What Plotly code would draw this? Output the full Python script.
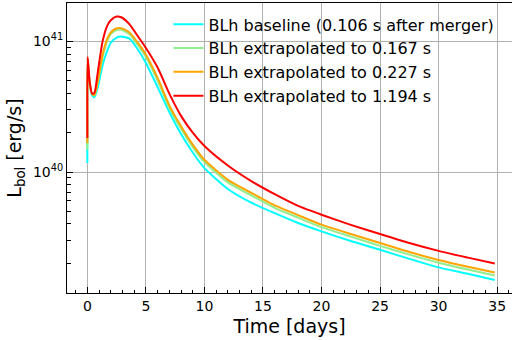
import plotly.graph_objects as go

# time in days
time_days = [0, 0.02, 0.2, 0.4, 0.6, 0.9, 1.3, 1.7, 2.0, 2.5, 2.9, 3.6, 4.3, 5, 6, 7, 8, 9, 10,
             12, 14, 16, 18, 20, 22.5, 25, 27.5, 30, 32.5, 34.8]

# bolometric luminosity in units of 1e40 erg/s
L_baseline = [1.17, 7.24, 4.68, 3.89, 3.73, 4.47, 6.61, 8.51, 9.77, 10.7, 10.9, 10.5, 8.71, 6.84,
              4.47, 2.88, 1.95, 1.41, 1.07, 0.741, 0.582, 0.484, 0.407, 0.351, 0.296, 0.254,
              0.216, 0.186, 0.166, 0.149]
L_0167 = [1.48, 7.41, 4.73, 3.94, 3.85, 4.90, 7.59, 10.1, 11.35, 12.2, 12.3, 11.35, 9.44, 7.59,
          5.01, 3.09, 2.14, 1.55, 1.19, 0.832, 0.661, 0.531, 0.447, 0.378, 0.320, 0.272,
          0.233, 0.202, 0.179, 0.161]
L_0227 = [1.66, 7.41, 4.79, 3.98, 3.89, 5.01, 7.94, 10.5, 11.7, 12.6, 12.6, 11.7, 9.77, 7.91,
          5.25, 3.24, 2.24, 1.62, 1.24, 0.871, 0.692, 0.556, 0.468, 0.395, 0.335, 0.286,
          0.244, 0.212, 0.188, 0.170]
L_1194 = [1.82, 7.59, 4.90, 3.98, 4.03, 5.89, 10.0, 13.2, 14.5, 15.5, 15.3, 13.5, 11.0, 8.91,
          6.31, 3.98, 2.69, 2.00, 1.58, 1.12, 0.851, 0.676, 0.550, 0.471, 0.394, 0.335,
          0.286, 0.249, 0.221, 0.199]

series_names = ["BLh baseline (0.106 s after merger)",
                "BLh extrapolated to 0.167 s",
                "BLh extrapolated to 0.227 s",
                "BLh extrapolated to 1.194 s"]
series_values = [L_baseline, L_0167, L_0227, L_1194]
series_colors = ["#00ffff", "#90ee90", "#ffa500", "#ff0000"]

x_ticks = [0, 5, 10, 15, 20, 25, 30, 35]
x_minor = list(range(-1, 37))
y_major = [1e40, 1e41]
y_major_text = ["10<sup>40</sup>", "10<sup>41</sup>"]
y_minor = [2e39, 3e39, 4e39, 5e39, 6e39, 7e39, 8e39, 9e39,
           2e40, 3e40, 4e40, 5e40, 6e40, 7e40, 8e40, 9e40]

fig = go.Figure()
for i, (name, vals, col) in enumerate(zip(series_names, series_values, series_colors)):
    fig.add_trace(go.Scatter(
        x=time_days, y=[v * 1e40 for v in vals], mode="lines", name=name,
        line=dict(color=col, width=2, shape="spline", smoothing=0.6),
        legendgroup=f"g{i}"))

font = "DejaVu Sans, Verdana, sans-serif"
fig.update_layout(
    width=512, height=340,
    margin=dict(l=67, r=0, t=3, b=47),
    paper_bgcolor="white", plot_bgcolor="white",
    font=dict(family=font, color="black", size=14),
    showlegend=True,
    legend=dict(x=0.228, y=0.985, xanchor="left", yanchor="top",
                bgcolor="rgba(0,0,0,0)", borderwidth=0,
                font=dict(size=16, family=font), tracegroupgap=1,
                traceorder="normal"),
    xaxis=dict(
        range=[-1.74, 36.27], tickmode="array", tickvals=x_ticks,
        ticks="inside", ticklen=6, tickcolor="black",
        showline=True, linecolor="black", linewidth=1, mirror=True,
        showgrid=True, gridcolor="#b0b0b0", gridwidth=1, zeroline=False,
        tickfont=dict(size=14),
        title=dict(text="Time [days]", font=dict(size=19), standoff=6),
        minor=dict(tickmode="array", tickvals=x_minor, ticks="inside", ticklen=3.5,
                   tickcolor="black", showgrid=False),
    ),
    yaxis=dict(
        type="log", range=[39.0735, 41.294], tickmode="array",
        tickvals=y_major, ticktext=y_major_text,
        ticks="inside", ticklen=6, tickcolor="black",
        showline=True, linecolor="black", linewidth=1, mirror=False,
        showgrid=True, gridcolor="#b0b0b0", gridwidth=1, zeroline=False,
        tickfont=dict(size=14),
        title=dict(text="L<sub>bol</sub> [erg/s]", font=dict(size=19), standoff=6),
        minor=dict(tickmode="array", tickvals=y_minor, ticks="inside", ticklen=3.5,
                   tickcolor="black", showgrid=False),
    ),
)

fig.write_html("out.html")
